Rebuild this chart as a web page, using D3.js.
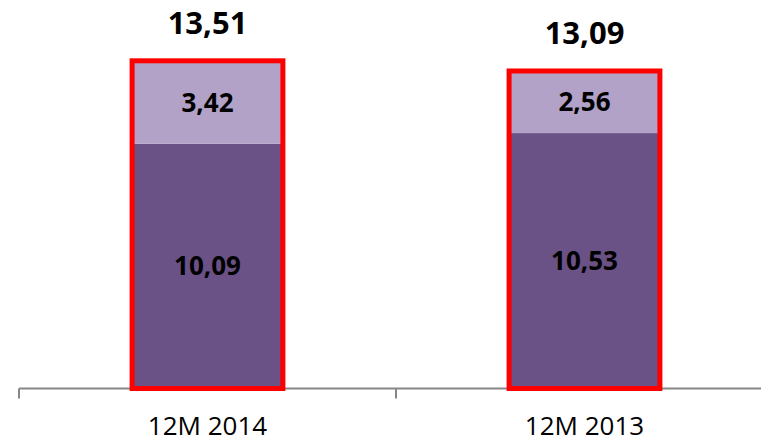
<!DOCTYPE html>
<html><head><meta charset="utf-8">
<script src="https://cdn.jsdelivr.net/npm/d3@7"></script>
<style>body{margin:0;background:#fff}svg{display:block}</style>
</head><body>
<script>
const categories = ["12M 2014", "12M 2013"];
const baseValues = [10.09, 10.53];
const topValues = [3.42, 2.56];
const totals = [13.51, 13.09];
const fmt = v => v.toFixed(2).replace(".", ",");

const W = 761, H = 443;
const svg = d3.select("body").append("svg").attr("width", W).attr("height", H);
const baseY = 388.5;
const x = d3.scaleBand().domain(categories).range([19, 773]).paddingInner(0.6).paddingOuter(0.3);
const y = d3.scaleLinear().domain([0, 13.51]).range([baseY, 60.8]);

const data = categories.map((c, i) => ({c, base: baseValues[i], top: topValues[i], total: totals[i]}));
const font = "'Open Sans', sans-serif";

// base segments
svg.selectAll(".base").data(data).join("rect")
  .attr("x", d => x(d.c)).attr("width", x.bandwidth())
  .attr("y", d => y(d.base)).attr("height", d => baseY - y(d.base))
  .attr("fill", "#6a5186");
// top segments
svg.selectAll(".top").data(data).join("rect")
  .attr("x", d => x(d.c)).attr("width", x.bandwidth())
  .attr("y", d => y(d.base + d.top)).attr("height", d => y(d.base) - y(d.base + d.top))
  .attr("fill", "#b2a2c7");

// axis
svg.append("line").attr("x1", 19).attr("x2", W).attr("y1", baseY).attr("y2", baseY)
  .attr("stroke", "#878787").attr("stroke-width", 2);
const ticks = [x.range()[0]].concat(categories.slice(1).map(c => x(c) - x.step() * x.paddingInner() / 2));
svg.selectAll(".tick").data(ticks).join("line")
  .attr("x1", d => d).attr("x2", d => d).attr("y1", baseY).attr("y2", baseY + 10)
  .attr("stroke", "#878787").attr("stroke-width", 2);

// red outlines
svg.selectAll(".outline").data(data).join("rect")
  .attr("x", d => x(d.c)).attr("width", x.bandwidth())
  .attr("y", d => y(d.total)).attr("height", d => baseY - y(d.total))
  .attr("fill", "none").attr("stroke", "#ff0000").attr("stroke-width", 5);

// labels
svg.selectAll(".lb").data(data).join("text")
  .attr("x", d => x(d.c) + x.bandwidth() / 2).attr("y", d => (y(d.base) + baseY) / 2)
  .attr("dy", "0.36em").attr("text-anchor", "middle")
  .attr("font-family", font).attr("font-weight", "bold").attr("font-size", 26).attr("fill", "#000")
  .text(d => fmt(d.base));
svg.selectAll(".lt").data(data).join("text")
  .attr("x", d => x(d.c) + x.bandwidth() / 2).attr("y", d => (y(d.base) + y(d.base + d.top)) / 2)
  .attr("dy", "0.36em").attr("text-anchor", "middle")
  .attr("font-family", font).attr("font-weight", "bold").attr("font-size", 26).attr("fill", "#000")
  .text(d => fmt(d.top));
svg.selectAll(".ltot").data(data).join("text")
  .attr("x", d => x(d.c) + x.bandwidth() / 2).attr("y", d => y(d.total) - 27)
  .attr("text-anchor", "middle")
  .attr("font-family", font).attr("font-weight", "bold").attr("font-size", 31).attr("fill", "#000")
  .text(d => fmt(d.total));
svg.selectAll(".lc").data(data).join("text")
  .attr("x", d => x(d.c) + x.bandwidth() / 2).attr("y", 435)
  .attr("text-anchor", "middle")
  .attr("font-family", font).attr("font-size", 26).attr("fill", "#000")
  .text(d => d.c);
</script>
</body></html>
